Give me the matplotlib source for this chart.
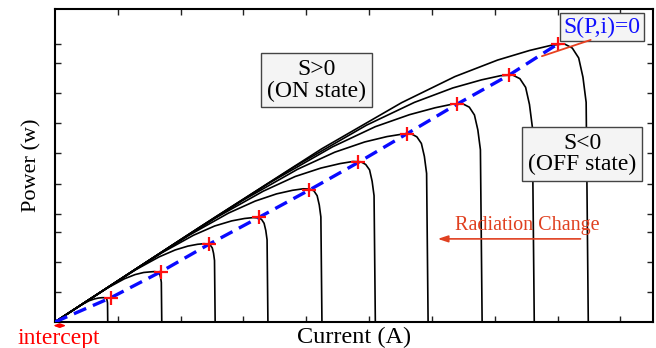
import matplotlib
matplotlib.use("Agg")
import matplotlib.pyplot as plt

plt.rcParams['font.family'] = ['Liberation Serif', 'DejaVu Serif']

# Current fraction grid shared by all curves (I / Isc)
frac = [0, 0.3, 0.5, 0.65, 0.75, 0.83, 0.89, 0.93, 0.955, 0.97, 0.982, 0.99, 0.996, 1.0]

# Short-circuit current of each P-I curve
isc = [0.84, 1.70, 2.55, 3.39, 4.25, 5.10, 5.94, 6.80, 7.63, 8.49]

# Power values of each curve on the grid above
p1 = [0, 0.35, 0.57, 0.71, 0.77, 0.80, 0.81, 0.81, 0.80, 0.79, 0.76, 0.70, 0.63, 0]
p2 = [0, 0.70, 1.15, 1.44, 1.58, 1.65, 1.67, 1.68, 1.67, 1.64, 1.58, 1.47, 1.32, 0]
p3 = [0, 1.05, 1.73, 2.17, 2.40, 2.53, 2.59, 2.61, 2.60, 2.56, 2.47, 2.29, 2.05, 0]
p4 = [0, 1.39, 2.30, 2.89, 3.20, 3.37, 3.45, 3.48, 3.47, 3.42, 3.29, 3.05, 2.74, 0]
p5 = [0, 1.75, 2.88, 3.63, 4.03, 4.27, 4.39, 4.44, 4.43, 4.37, 4.21, 3.90, 3.50, 0]
p6 = [0, 2.10, 3.46, 4.36, 4.85, 5.13, 5.28, 5.35, 5.34, 5.25, 5.07, 4.69, 4.21, 0]
p7 = [0, 2.44, 4.03, 5.09, 5.66, 6.00, 6.18, 6.26, 6.27, 6.17, 5.95, 5.52, 4.95, 0]
p8 = [0, 2.80, 4.62, 5.84, 6.51, 6.91, 7.14, 7.26, 7.27, 7.16, 6.90, 6.40, 5.74, 0]
p9 = [0, 3.14, 5.18, 6.56, 7.32, 7.80, 8.07, 8.21, 8.23, 8.11, 7.82, 7.25, 6.50, 0]
p10 = [0, 3.49, 5.77, 7.31, 8.18, 8.73, 9.05, 9.22, 9.27, 9.13, 8.80, 8.16, 7.32, 0]
powers = [p1, p2, p3, p4, p5, p6, p7, p8, p9, p10]

# Maximum power points (red markers)
mpp_i = [0.89, 1.69, 2.45, 3.25, 4.05, 4.83, 5.60, 6.40, 7.23, 8.00]
mpp_p = [0.81, 1.68, 2.59, 3.49, 4.40, 5.32, 6.27, 7.26, 8.23, 9.26]

# Tick positions (no labels)
x_ticks = [1, 2, 3, 4, 5, 6, 7, 8, 9]
y_ticks = [1.0, 2.0, 3.0, 3.6, 4.6, 5.63, 6.63, 7.63, 8.63, 9.27]

fig = plt.figure(figsize=(6.56, 3.48), dpi=100)
ax = fig.add_axes([0.0838, 0.0747, 0.9116, 0.8993])

for sc, pw in zip(isc, powers):
    cur = [f * sc for f in frac]
    ax.plot(cur, pw, color='black', lw=1.2, solid_joinstyle='round', zorder=2)

ax.plot([0] + mpp_i, [0] + mpp_p, color='#0a0aff', lw=2.4, ls=(0, (4, 2.2)), zorder=3)
ax.plot(mpp_i, mpp_p, ls='none', marker='+', ms=10, mew=1.6, color='#ff1010', zorder=4)

ax.set_xlim(0, 9.52)
ax.set_ylim(0, 10.43)
ax.set_xticks(x_ticks)
ax.set_yticks(y_ticks)
ax.set_xticklabels([])
ax.set_yticklabels([])
ax.tick_params(direction='in', length=4, width=1, top=True, right=True, color='#222222')
for s in ax.spines.values():
    s.set_linewidth(1.5)

ax.set_xlabel('Current (A)', fontsize=17.5, labelpad=0)
ax.set_ylabel('Power (w)', fontsize=16, labelpad=6)

box = dict(boxstyle='square,pad=0.25', fc='#f4f4f4', ec='#444444', lw=1)
ax.text(4.16, 8.05, 'S>0\n(ON state)', ha='center', va='center', fontsize=17,
        linespacing=1.0, bbox=box, zorder=5)
ax.text(8.39, 5.6, 'S<0\n(OFF state)', ha='center', va='center', fontsize=17,
        linespacing=1.0, bbox=box, zorder=5)
ax.text(8.71, 9.83, 'S(P,i)=0', ha='center', va='center', fontsize=17,
        color='#1010ff', bbox=dict(boxstyle='square,pad=0.15', fc='#f4f4f4', ec='#444444', lw=1), zorder=5)

ax.annotate('', xy=(7.71, 8.83), xytext=(8.57, 9.43),
            arrowprops=dict(arrowstyle='-', color='#e84020', lw=1.3), zorder=5)

ax.annotate('', xy=(6.05, 2.77), xytext=(8.41, 2.77),
            arrowprops=dict(arrowstyle='-|>,head_length=0.6,head_width=0.2', color='#e04020', lw=1.2), zorder=5)
ax.text(7.52, 3.23, 'Radiation Change', ha='center', va='center', fontsize=14.5,
        color='#e04020', zorder=5)

ax.annotate('', xy=(-0.07, -0.12), xytext=(0.22, -0.12),
            arrowprops=dict(arrowstyle='<|-|>,head_length=0.3,head_width=0.12', color='red', lw=1),
            annotation_clip=False)
ax.text(0.06, -0.55, 'intercept', ha='center', va='center', fontsize=17, color='red', clip_on=False)

fig.savefig('out.png', dpi=100)
